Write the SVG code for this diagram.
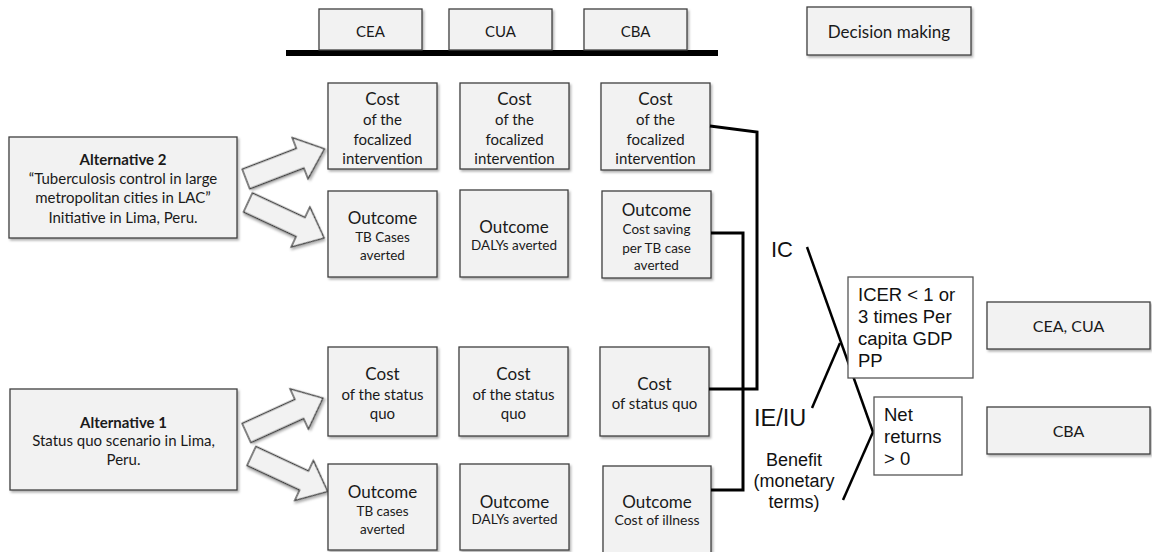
<svg xmlns="http://www.w3.org/2000/svg" xmlns:xlink="http://www.w3.org/1999/xlink" width="1152" height="552" viewBox="0 0 1152 552">
<style>
.box{fill:#f2f2f2;stroke:#3f3f3f;stroke-width:1.3;filter:url(#sh)}
.wbox{fill:#fff;stroke:#555;stroke-width:1.3}
.arr{fill:#f2f2f2;stroke:#3f3f3f;stroke-width:1.3;filter:url(#sh)}
.t{font-family:Lato,'Open Sans',sans-serif;fill:#1a1a1a;text-anchor:middle}
.h{font-size:17px}
.s{font-size:15px}
.xs{font-size:13.5px}
.b{font-weight:bold}
.a{font-family:'Liberation Sans',Arial,sans-serif;fill:#111}
.ln{fill:none;stroke:#000;stroke-width:3;stroke-linejoin:miter}
.dl{fill:none;stroke:#000;stroke-width:2.5}
</style>
<defs>
<filter id="sh" x="-10%" y="-10%" width="130%" height="130%">
<feDropShadow dx="1.5" dy="2" stdDeviation="1.3" flood-color="#000" flood-opacity="0.3"/>
</filter>
<polygon id="barrow" points="0,-10.5 58,-10.5 58,-22 84,0 58,22 58,10.5 0,10.5"/>
</defs>
<rect width="1152" height="552" fill="#fff"/>

<g id="header">
<rect x="286" y="50" width="432" height="6" fill="#000"/>
<g id="h-cea"><rect class="box" x="319" y="9" width="103" height="41"/><text class="t s" x="370.5" y="37">CEA</text></g>
<g id="h-cua"><rect class="box" x="449" y="9" width="103" height="41"/><text class="t s" x="500.5" y="37">CUA</text></g>
<g id="h-cba"><rect class="box" x="584" y="9" width="103" height="41"/><text class="t s" x="635.5" y="37">CBA</text></g>
</g>
<g id="decision"><rect class="box" x="807" y="7" width="164" height="48"/><text class="t h" x="889" y="38">Decision making</text></g>

<g id="alt2"><rect class="box" x="9" y="137" width="228" height="101"/>
<text class="t s" x="123" y="165"><tspan class="b" x="123">Alternative 2</tspan><tspan x="123" y="184">“Tuberculosis control in large</tspan><tspan x="123" y="203">metropolitan cities in LAC”</tspan><tspan x="123" y="223">Initiative in Lima, Peru.</tspan></text></g>
<g id="alt1"><rect class="box" x="10" y="389" width="227" height="101"/>
<text class="t s" x="123.5" y="428"><tspan class="b" x="123.5">Alternative 1</tspan><tspan x="123.5" y="446">Status quo scenario in Lima,</tspan><tspan x="123.5" y="465">Peru.</tspan></text></g>

<g id="arrows">
<use href="#barrow" class="arr" transform="translate(246,179) rotate(-21)"/>
<use href="#barrow" class="arr" transform="translate(248,202.5) rotate(25)"/>
<use href="#barrow" class="arr" transform="translate(246.5,433) rotate(-24.5)"/>
<use href="#barrow" class="arr" transform="translate(251.5,456) rotate(25)"/>
</g>

<g id="cea-cost1"><rect class="box" x="328" y="83" width="109" height="86"/>
<text class="t h" x="382.5" y="105">Cost</text><text class="t s" x="382.5" y="125">of the</text><text class="t s" x="382.5" y="145">focalized</text><text class="t s" x="382.5" y="164">intervention</text></g>
<g id="cua-cost1"><rect class="box" x="460" y="83" width="109" height="86"/>
<text class="t h" x="514.5" y="105">Cost</text><text class="t s" x="514.5" y="125">of the</text><text class="t s" x="514.5" y="145">focalized</text><text class="t s" x="514.5" y="164">intervention</text></g>
<g id="cba-cost1"><rect class="box" x="601" y="83" width="109" height="87"/>
<text class="t h" x="655.5" y="105">Cost</text><text class="t s" x="655.5" y="125">of the</text><text class="t s" x="655.5" y="145">focalized</text><text class="t s" x="655.5" y="164">intervention</text></g>

<g id="cea-out1"><rect class="box" x="328" y="191" width="109" height="86"/>
<text class="t h" x="382.5" y="224">Outcome</text><text class="t xs" x="382.5" y="242">TB Cases</text><text class="t xs" x="382.5" y="260">averted</text></g>
<g id="cua-out1"><rect class="box" x="460" y="190" width="108" height="87"/>
<text class="t h" x="514" y="233">Outcome</text><text class="t xs" x="514" y="250">DALYs averted</text></g>
<g id="cba-out1"><rect class="box" x="602" y="191" width="109" height="87"/>
<text class="t h" x="656.5" y="216">Outcome</text><text class="t xs" x="656.5" y="234">Cost saving</text><text class="t xs" x="656.5" y="253">per TB case</text><text class="t xs" x="656.5" y="270">averted</text></g>

<g id="cea-cost0"><rect class="box" x="328" y="347" width="109" height="89"/>
<text class="t h" x="382.5" y="380">Cost</text><text class="t s" x="382.5" y="400">of the status</text><text class="t s" x="382.5" y="419">quo</text></g>
<g id="cua-cost0"><rect class="box" x="459" y="347" width="109" height="89"/>
<text class="t h" x="513.5" y="380">Cost</text><text class="t s" x="513.5" y="400">of the status</text><text class="t s" x="513.5" y="419">quo</text></g>
<g id="cba-cost0"><rect class="box" x="600" y="347" width="109" height="89"/>
<text class="t h" x="654.5" y="390">Cost</text><text class="t s" x="654.5" y="409">of status quo</text></g>

<g id="cea-out0"><rect class="box" x="328" y="464" width="109" height="86"/>
<text class="t h" x="382.5" y="498">Outcome</text><text class="t xs" x="382.5" y="516">TB cases</text><text class="t xs" x="382.5" y="534">averted</text></g>
<g id="cua-out0"><rect class="box" x="460" y="464" width="109" height="86"/>
<text class="t h" x="514.5" y="508">Outcome</text><text class="t xs" x="514.5" y="524">DALYs averted</text></g>
<g id="cba-out0"><rect class="box" x="603" y="466" width="108" height="90"/>
<text class="t h" x="657" y="508">Outcome</text><text class="t" style="font-size:14px" x="657" y="525">Cost of illness</text></g>

<g id="connectors">
<path class="ln" d="M710,126 L757,132 L757,389 L709,389"/>
<path class="ln" d="M711,233 L743,233 L743,490 L711,490"/>
<line class="dl" x1="807" y1="247" x2="873" y2="432"/>
<line class="dl" x1="812" y1="408" x2="840" y2="343"/>
<line class="dl" x1="843" y1="500" x2="873" y2="432"/>
</g>

<g id="labels">
<text class="a" x="771" y="257" font-size="22">IC</text>
<text class="a" x="754" y="426" font-size="23.5">IE/IU</text>
<text class="a" font-size="18" text-anchor="middle" x="794" y="466"><tspan x="794">Benefit</tspan><tspan x="794" y="487">(monetary</tspan><tspan x="794" y="508">terms)</tspan></text>
</g>

<g id="icer"><rect class="wbox" x="848" y="277" width="125" height="101"/>
<text class="a" font-size="18.5" x="858" y="301"><tspan x="858">ICER &lt; 1 or</tspan><tspan x="858" y="323">3 times Per</tspan><tspan x="858" y="345">capita GDP</tspan><tspan x="858" y="367">PP</tspan></text></g>
<g id="net"><rect class="wbox" x="874" y="397" width="88" height="78"/>
<text class="a" font-size="18.5" x="884" y="421"><tspan x="884">Net</tspan><tspan x="884" y="443">returns</tspan><tspan x="884" y="465">&gt; 0</tspan></text></g>

<g id="r-ceacua"><rect class="box" x="987" y="302" width="163" height="47"/><text class="t" style="font-size:16px" x="1068.5" y="332">CEA, CUA</text></g>
<g id="r-cba"><rect class="box" x="987" y="407" width="163" height="47"/><text class="t" style="font-size:16px" x="1068.5" y="437">CBA</text></g>
</svg>
